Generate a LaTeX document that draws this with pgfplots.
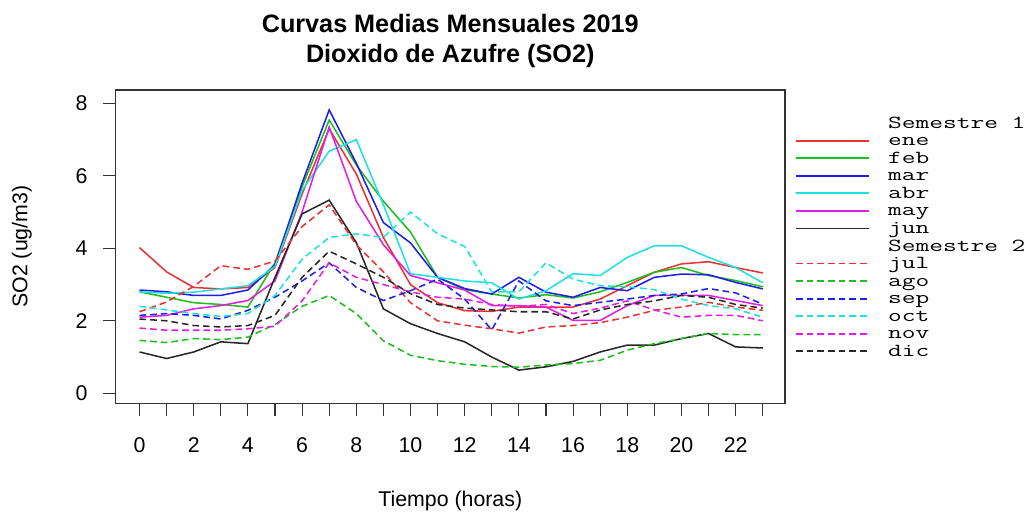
\documentclass[border=0pt]{standalone}
\usepackage{fontspec}
\setmainfont{Liberation Sans}
\newfontfamily\legfont{Latin Modern Mono}[FakeStretch=1.45]
\usepackage{pgfplots}
\usepackage{pgfplotstable}
\pgfplotsset{compat=1.18}
\pgfplotstableread{
h ene feb mar abr may jun jul ago sep oct nov dic
0 4.02 2.80 2.85 2.80 2.10 1.14 2.25 1.46 2.15 2.40 1.80 2.05
1 3.35 2.65 2.80 2.76 2.15 0.96 2.52 1.40 2.20 2.30 1.74 2.00
2 2.92 2.50 2.70 2.79 2.33 1.14 2.95 1.51 2.15 2.20 1.74 1.87
3 2.88 2.45 2.70 2.88 2.42 1.42 3.52 1.48 2.05 2.12 1.74 1.83
4 2.92 2.38 2.85 2.97 2.56 1.37 3.42 1.55 2.29 2.20 1.78 1.87
5 3.47 3.60 3.55 3.50 3.10 3.20 3.65 1.90 2.65 2.70 1.85 2.15
6 5.50 5.70 5.80 5.60 5.00 4.95 4.60 2.40 3.10 3.70 2.55 3.20
7 7.30 7.54 7.82 6.68 7.35 5.33 5.20 2.70 3.60 4.30 3.60 3.92
8 6.05 6.30 6.35 7.00 5.30 4.16 4.10 2.20 2.92 4.40 3.20 3.57
9 4.30 5.30 4.71 5.20 4.10 2.33 3.35 1.45 2.56 4.30 3.00 3.20
10 3.00 4.45 4.15 3.30 3.25 1.92 2.50 1.05 2.83 5.00 2.80 2.75
11 2.50 3.20 3.20 3.20 3.05 1.65 2.00 0.90 3.15 4.40 2.65 2.45
12 2.28 2.86 2.89 3.10 2.85 1.42 1.88 0.80 2.60 4.05 2.60 2.35
13 2.26 2.74 2.74 3.05 2.42 1.00 1.78 0.74 1.75 2.80 2.45 2.30
14 2.38 2.63 3.20 2.60 2.42 0.64 1.66 0.72 3.10 2.80 2.40 2.25
15 2.38 2.72 2.79 2.83 2.38 0.73 1.83 0.78 2.55 3.60 2.45 2.25
16 2.38 2.63 2.65 3.30 2.01 0.88 1.87 0.82 2.42 3.15 2.20 2.05
17 2.60 2.80 2.92 3.25 2.01 1.14 1.95 0.91 2.51 2.97 2.35 2.30
18 2.97 3.06 2.83 3.75 2.42 1.33 2.10 1.19 2.60 2.94 2.55 2.45
19 3.34 3.34 3.20 4.07 2.70 1.33 2.29 1.37 2.70 2.86 2.30 2.55
20 3.57 3.47 3.29 4.07 2.70 1.51 2.38 1.51 2.74 2.60 2.10 2.70
21 3.63 3.25 3.27 3.75 2.70 1.65 2.51 1.65 2.89 2.42 2.15 2.65
22 3.47 3.11 3.06 3.47 2.56 1.28 2.38 1.62 2.77 2.33 2.15 2.45
23 3.32 2.94 2.88 3.05 2.42 1.25 2.29 1.62 2.46 2.10 2.00 2.35
}\datatable
\definecolor{cR}{RGB}{235,50,50}
\definecolor{cG}{RGB}{30,190,30}
\definecolor{cB}{RGB}{30,30,230}
\definecolor{cC}{RGB}{30,225,225}
\definecolor{cM}{RGB}{225,30,225}
\definecolor{cK}{RGB}{40,40,40}
\begin{document}
\begin{tikzpicture}
\path[use as bounding box] (0pt,0pt) rectangle (773.25pt,387.75pt);
\begin{axis}[
  at={(86.625pt,85.275pt)}, anchor=south west,
  scale only axis, width=502.1pt, height=235pt,
  xmin=-0.886, xmax=23.82, ymin=-0.276, ymax=8.37,
  axis line style={black!80, line width=1pt},
  xtick={0,...,23},
  xticklabels={0,,2,,4,,6,,8,,10,,12,,14,,16,,18,,20,,22,},
  ytick={0,2,4,6,8},
  tick align=outside, xtick pos=bottom, ytick pos=left,
  major tick length=9.5pt,
  tick style={black!80, line width=0.8pt},
  /pgf/number format/assume math mode=true,
  tick label style={font=\fontsize{16}{16}\selectfont},
  xticklabel style={yshift=-12.5pt},
  yticklabel style={xshift=-8pt},
  title={Curvas Medias Mensuales 2019\\Dioxido de Azufre (SO2)},
  title style={at={(axis description cs:0.5,1.2155)}, anchor=north, align=center,
    inner sep=0pt, font=\bfseries\fontsize{18.9}{22.5}\selectfont},
  xlabel={Tiempo (horas)},
  xlabel style={at={(axis description cs:0.5,-0.328)}, anchor=base, inner sep=0pt,
    font=\fontsize{16}{16}\selectfont},
  ylabel={SO2 (ug/m3)},
  ylabel style={at={(axis description cs:-0.1397,0.5)}, anchor=center, inner sep=0pt,
    font=\fontsize{16}{16}\selectfont},
  legend image code/.code={\draw[#1, line width=1.4pt] (0pt,0pt) -- (54.75pt,0pt);},
  legend cell align=left,
  legend style={at={(axis description cs:1.0149,0.9228)}, anchor=north west,
    draw=none, fill=none, inner sep=0pt, row sep=0pt, column sep=13.5pt,
    font=\legfont\fontsize{13.8}{13.8}\selectfont,
    nodes={inner sep=0pt, text height=10.33pt, text depth=2.83pt}},
  every axis plot/.append style={line width=1.15pt},
  clip=false
]
\addlegendimage{empty legend}\addlegendentry{Semestre 1}
\addplot[cR] table[x=h,y=ene]{\datatable};\addlegendentry{ene}
\addplot[cG] table[x=h,y=feb]{\datatable};\addlegendentry{feb}
\addplot[cB] table[x=h,y=mar]{\datatable};\addlegendentry{mar}
\addplot[cC] table[x=h,y=abr]{\datatable};\addlegendentry{abr}
\addplot[cM] table[x=h,y=may]{\datatable};\addlegendentry{may}
\addplot[cK] table[x=h,y=jun]{\datatable};\addlegendentry{jun}
\addlegendimage{empty legend}\addlegendentry{Semestre 2}
\addplot[cR, dash pattern=on 5pt off 3pt] table[x=h,y=jul]{\datatable};\addlegendentry{jul}
\addplot[cG, dash pattern=on 5pt off 3pt] table[x=h,y=ago]{\datatable};\addlegendentry{ago}
\addplot[cB, dash pattern=on 5pt off 3pt] table[x=h,y=sep]{\datatable};\addlegendentry{sep}
\addplot[cC, dash pattern=on 5pt off 3pt] table[x=h,y=oct]{\datatable};\addlegendentry{oct}
\addplot[cM, dash pattern=on 5pt off 3pt] table[x=h,y=nov]{\datatable};\addlegendentry{nov}
\addplot[cK, dash pattern=on 5pt off 3pt] table[x=h,y=dic]{\datatable};\addlegendentry{dic}
\end{axis}
\end{tikzpicture}
\end{document}
